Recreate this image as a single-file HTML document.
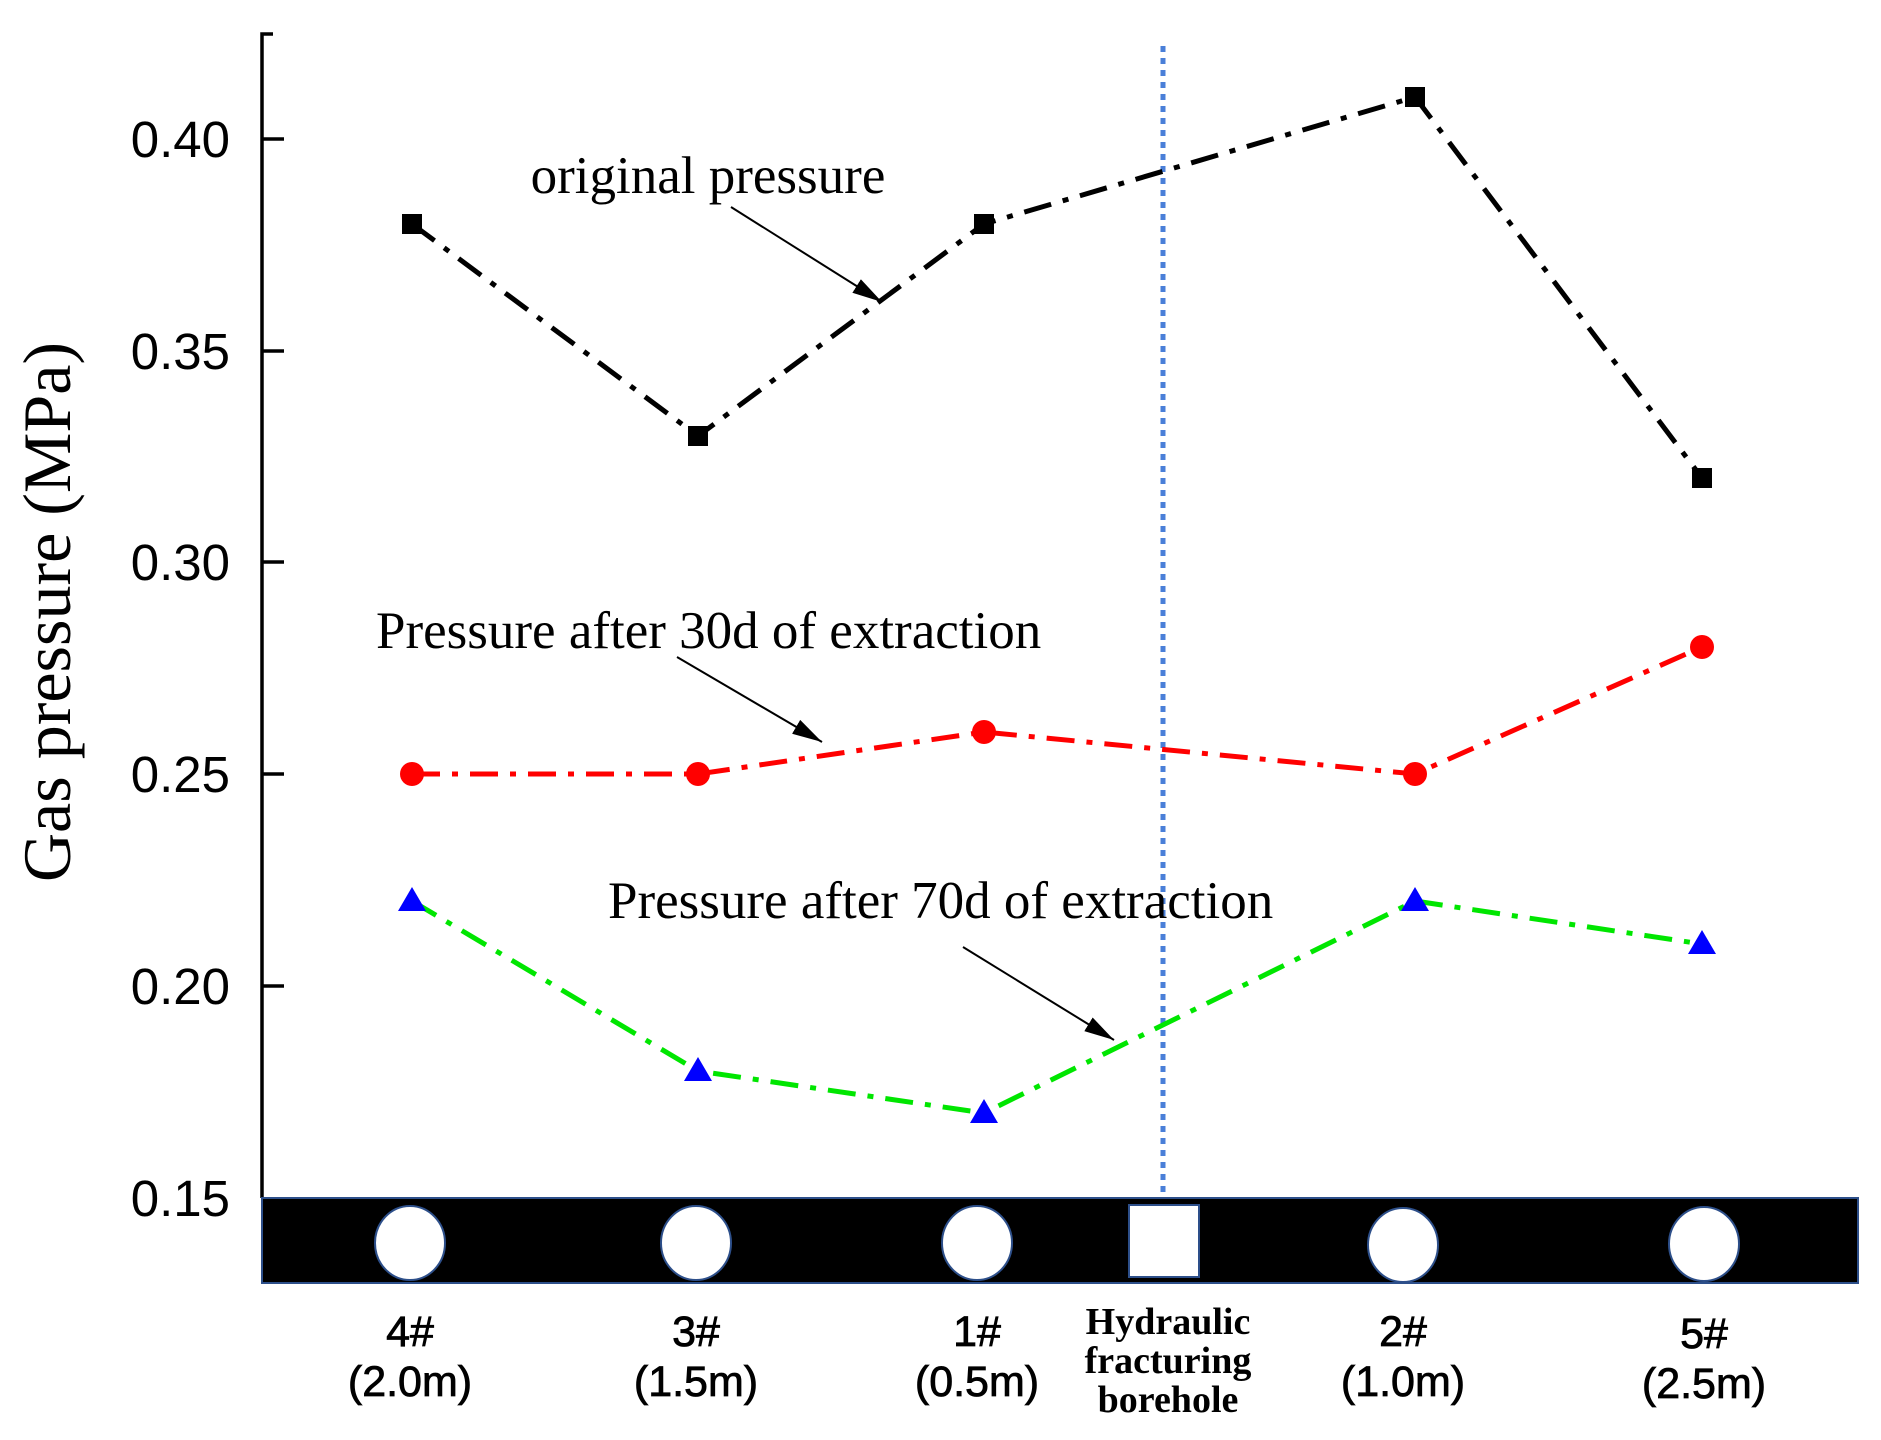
<!DOCTYPE html>
<html><head><style>body{margin:0;background:#fff}svg{display:block}</style></head><body>
<svg width="1881" height="1440" viewBox="0 0 1881 1440" xmlns="http://www.w3.org/2000/svg">
<defs>
<marker id="a2" markerWidth="30" markerHeight="20" refX="30" refY="10" orient="auto" markerUnits="userSpaceOnUse"><path d="M0,2 L30,10 L0,18 z" fill="#000"/></marker></defs>
<!-- axis -->
<path d="M273,34 H262 V1198" stroke="#000" stroke-width="3.5" fill="none"/>
<g stroke="#000" stroke-width="3.5">
<line x1="262" y1="139" x2="284" y2="139"/><line x1="262" y1="351" x2="284" y2="351"/><line x1="262" y1="562" x2="284" y2="562"/><line x1="262" y1="774" x2="284" y2="774"/><line x1="262" y1="986" x2="284" y2="986"/></g>
<g font-family="Liberation Sans, sans-serif" font-size="51" text-anchor="end">
<text x="230" y="157">0.40</text><text x="230" y="369">0.35</text><text x="230" y="580">0.30</text><text x="230" y="792">0.25</text><text x="230" y="1004">0.20</text><text x="230" y="1216">0.15</text></g>
<text transform="translate(70,612) rotate(-90)" font-family="Liberation Serif, serif" font-size="68" text-anchor="middle">Gas pressure (MPa)</text>
<!-- vertical line -->
<line x1="1163" y1="46" x2="1163" y2="1198" stroke="#4a7fd8" stroke-width="5" stroke-dasharray="6,6"/>
<!-- series -->
<polyline points="412,224 698,436 984,224 1415,97 1702,478" fill="none" stroke="#000" stroke-width="5" stroke-dasharray="28,12,6,12"/>
<polyline points="412,774 698,774 984,732 1415,774 1702,647" fill="none" stroke="#f00" stroke-width="5" stroke-dasharray="28,12,6,12"/>
<polyline points="412,901 698,1071 984,1113 1415,901 1702,944" fill="none" stroke="#00e600" stroke-width="5" stroke-dasharray="28,12,6,12"/>
<g fill="#000"><rect x="402" y="214" width="20" height="20"/><rect x="688" y="426" width="20" height="20"/><rect x="974" y="214" width="20" height="20"/><rect x="1405" y="87" width="20" height="20"/><rect x="1692" y="468" width="20" height="20"/></g>
<g fill="#f00"><circle cx="412" cy="774" r="12"/><circle cx="698" cy="774" r="12"/><circle cx="984" cy="732" r="12"/><circle cx="1415" cy="774" r="12"/><circle cx="1702" cy="647" r="12"/></g>
<g fill="#00f"><path d="M412,887 l14,24 h-28z"/><path d="M698,1057 l14,24 h-28z"/><path d="M984,1099 l14,24 h-28z"/><path d="M1415,887 l14,24 h-28z"/><path d="M1702,930 l14,24 h-28z"/></g>
<!-- annotations -->
<g font-family="Liberation Serif, serif" font-size="53">
<text x="708" y="193" text-anchor="middle">original pressure</text>
<text x="376" y="648">Pressure after 30d of extraction</text>
<text x="608" y="918">Pressure after 70d of extraction</text></g>
<g stroke="#000" stroke-width="2"><line x1="731" y1="207" x2="882" y2="302" marker-end="url(#a2)"/><line x1="677" y1="657" x2="822" y2="742" marker-end="url(#a2)"/><line x1="963" y1="947" x2="1114" y2="1040" marker-end="url(#a2)"/></g>
<!-- bar -->
<rect x="262" y="1198" width="1596" height="85" fill="#000" stroke="#2d4f8a" stroke-width="2"/>
<g fill="#fff" stroke="#2d4f8a" stroke-width="2"><ellipse cx="410" cy="1243" rx="35" ry="37"/><ellipse cx="696" cy="1243" rx="35" ry="37"/><ellipse cx="977" cy="1243" rx="35" ry="37"/><ellipse cx="1403" cy="1245" rx="35" ry="37"/><ellipse cx="1704" cy="1244" rx="35" ry="37"/><rect x="1129" y="1205" width="70" height="72"/></g>
<g font-family="Liberation Sans, sans-serif" font-size="43" text-anchor="middle" stroke="#000" stroke-width="0.8">
<text x="410" y="1346">4#</text><text x="410" y="1396">(2.0m)</text>
<text x="696" y="1346">3#</text><text x="696" y="1396">(1.5m)</text>
<text x="977" y="1346">1#</text><text x="977" y="1396">(0.5m)</text>
<text x="1403" y="1346">2#</text><text x="1403" y="1396">(1.0m)</text>
<text x="1704" y="1348">5#</text><text x="1704" y="1398">(2.5m)</text></g>
<g font-family="Liberation Serif, serif" font-size="38" font-weight="bold" text-anchor="middle">
<text x="1168" y="1334">Hydraulic</text><text x="1168" y="1373">fracturing</text><text x="1168" y="1412">borehole</text></g>
</svg>
</body></html>
